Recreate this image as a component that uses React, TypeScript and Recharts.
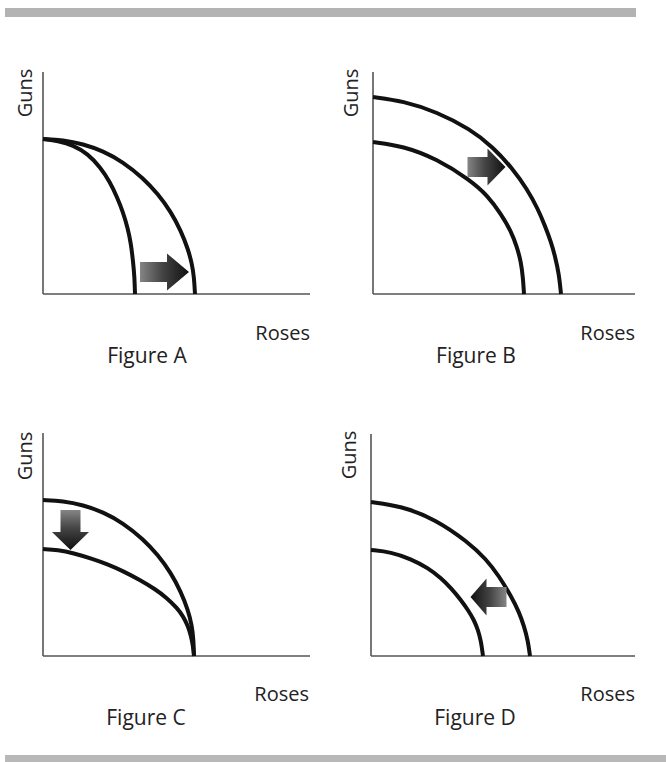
import React from "react";
import { LineChart, Line, XAxis, YAxis, ReferenceDot, ReferenceLine } from "recharts";

// Four production-possibility frontiers (Guns vs Roses), one small LineChart per figure.
// Units: distance from the axes, in the figure's own scale.

type Pt = { x: number; y: number };

const figureA_before: Pt[] = [
  { x: 0, y: 155 }, { x: 15, y: 153 }, { x: 30, y: 149 }, { x: 45, y: 140 },
  { x: 57, y: 127 }, { x: 67, y: 112 }, { x: 74, y: 97 }, { x: 80, y: 82 },
  { x: 85, y: 65 }, { x: 88, y: 50 }, { x: 90, y: 33 }, { x: 91.5, y: 17 }, { x: 92, y: 0 },
];
const figureA_after: Pt[] = [
  { x: 0, y: 155 }, { x: 20, y: 154 }, { x: 40, y: 150 }, { x: 60, y: 143 },
  { x: 80, y: 132 }, { x: 100, y: 116 }, { x: 115, y: 100 }, { x: 128, y: 82 },
  { x: 138, y: 63 }, { x: 145, y: 45 }, { x: 149, y: 30 }, { x: 151, y: 17 }, { x: 152, y: 0 },
];

const figureB_before: Pt[] = [
  { x: 0, y: 152 }, { x: 30, y: 148 }, { x: 64, y: 135 }, { x: 97, y: 114 },
  { x: 115, y: 98 }, { x: 128, y: 80 }, { x: 138, y: 63 }, { x: 144, y: 47 },
  { x: 148, y: 32 }, { x: 150, y: 16 }, { x: 151, y: 0 },
];
const figureB_after: Pt[] = [
  { x: 0, y: 197 }, { x: 30, y: 193 }, { x: 64, y: 182 }, { x: 97, y: 165 },
  { x: 120, y: 147 }, { x: 140, y: 125 }, { x: 154, y: 105 }, { x: 165, y: 85 },
  { x: 172, y: 68 }, { x: 178, y: 52 }, { x: 182, y: 38 }, { x: 186, y: 20 }, { x: 188, y: 0 },
];

const figureC_before: Pt[] = [
  { x: 0, y: 156 }, { x: 20, y: 155 }, { x: 40, y: 151 }, { x: 60, y: 144 },
  { x: 80, y: 133 }, { x: 100, y: 117 }, { x: 115, y: 101 }, { x: 128, y: 83 },
  { x: 138, y: 64 }, { x: 145, y: 46 }, { x: 149, y: 30 }, { x: 150.5, y: 16 }, { x: 151, y: 0 },
];
const figureC_after: Pt[] = [
  { x: 0, y: 107 }, { x: 15, y: 106 }, { x: 30, y: 103 }, { x: 50, y: 97 },
  { x: 64, y: 92 }, { x: 80, y: 85 }, { x: 97, y: 76 }, { x: 112, y: 67 },
  { x: 124, y: 58 }, { x: 134, y: 48 }, { x: 140, y: 40 }, { x: 145, y: 30 },
  { x: 148, y: 20 }, { x: 150, y: 10 }, { x: 151, y: 0 },
];

const figureD_before: Pt[] = [
  { x: 0, y: 154 }, { x: 30, y: 150 }, { x: 64, y: 137 }, { x: 97, y: 114 },
  { x: 115, y: 97 }, { x: 128, y: 80 }, { x: 140, y: 60 }, { x: 148, y: 44 },
  { x: 153, y: 30 }, { x: 157, y: 15 }, { x: 159, y: 0 },
];
const figureD_after: Pt[] = [
  { x: 0, y: 106 }, { x: 20, y: 104 }, { x: 40, y: 97 }, { x: 57, y: 88 },
  { x: 70, y: 78 }, { x: 80, y: 68 }, { x: 90, y: 56 }, { x: 97, y: 46 },
  { x: 103, y: 36 }, { x: 107, y: 26 }, { x: 110, y: 15 }, { x: 112, y: 0 },
];

const xLabel = "Roses";
const yLabel = "Guns";
const figureNames = ["Figure A", "Figure B", "Figure C", "Figure D"];

const font = "'Open Sans', sans-serif";
const ink = "#222";
const axisColor = "#555";

const panels = [
  {
    left: 0, top: 20, width: 333, height: 360,
    margin: { top: 52, right: 23, bottom: 86, left: 43 },
    xMax: 267, yMax: 222,
    curves: [figureA_before, figureA_after],
    arrow: { x: 121.5, y: 22, angle: 0, length: 49, head: 22 },
    guns: { x: 32, y: 73 }, roses: { x: 310, y: 320 }, fig: { x: 147, y: 343 },
  },
  {
    left: 333, top: 20, width: 333, height: 360,
    margin: { top: 52, right: 31, bottom: 86, left: 40 },
    xMax: 262, yMax: 222,
    curves: [figureB_before, figureB_after],
    arrow: { x: 113.5, y: 127, angle: 0, length: 38, head: 18 },
    guns: { x: 25, y: 73 }, roses: { x: 302, y: 320 }, fig: { x: 143, y: 343 },
  },
  {
    left: 0, top: 381, width: 333, height: 370,
    margin: { top: 52, right: 23, bottom: 95, left: 43 },
    xMax: 267, yMax: 223,
    curves: [figureC_before, figureC_after],
    arrow: { x: 27.5, y: 126, angle: 90, length: 40, head: 18 },
    guns: { x: 32, y: 75 }, roses: { x: 309, y: 320 }, fig: { x: 146, y: 344 },
  },
  {
    left: 333, top: 381, width: 333, height: 370,
    margin: { top: 53, right: 31, bottom: 95, left: 38 },
    xMax: 264, yMax: 222,
    curves: [figureD_before, figureD_after],
    arrow: { x: 117.5, y: 59, angle: 180, length: 36, head: 16 },
    guns: { x: 23, y: 74 }, roses: { x: 302, y: 320 }, fig: { x: 142, y: 344 },
  },
];

function arrowShape(id: string, angle: number, length: number, head: number) {
  return (props: any) => {
    const { cx, cy } = props;
    const half = length / 2;
    const neck = half - head;
    const body = 10;
    const wing = 18.5;
    const pts = [
      [-half, -body], [neck, -body], [neck, -wing], [half, 0],
      [neck, wing], [neck, body], [-half, body],
    ].map((p) => p.join(",")).join(" ");
    return (
      <g transform={`translate(${cx},${cy}) rotate(${angle})`}>
        <defs>
          <linearGradient id={id} x1="0" y1="0" x2="1" y2="0">
            <stop offset="0" stopColor="#858585" />
            <stop offset="0.45" stopColor="#454545" />
            <stop offset="1" stopColor="#101010" />
          </linearGradient>
        </defs>
        <polygon points={pts} fill={`url(#${id})`} />
      </g>
    );
  };
}

function Figure({ p, name, idx }: { p: (typeof panels)[number]; name: string; idx: number }) {
  return (
    <div style={{ position: "absolute", left: p.left, top: p.top }}>
      <LineChart width={p.width} height={p.height} margin={p.margin}>
        <XAxis type="number" dataKey="x" domain={[0, p.xMax]} hide />
        <YAxis type="number" dataKey="y" domain={[0, p.yMax]} hide />
        <ReferenceLine x={0} stroke={axisColor} strokeWidth={1.6} />
        <ReferenceLine y={0} stroke={axisColor} strokeWidth={1.6} />
        {p.curves.map((c, i) => (
          <Line
            key={i}
            data={c}
            dataKey="y"
            type="basis"
            stroke="#111"
            strokeWidth={4}
            dot={false}
            activeDot={false}
            isAnimationActive={false}
          />
        ))}
        <ReferenceDot
          x={p.arrow.x}
          y={p.arrow.y}
          r={1}
          shape={arrowShape(`arrow-grad-${idx}`, p.arrow.angle, p.arrow.length, p.arrow.head)}
        />
        <text
          x={p.guns.x}
          y={p.guns.y}
          transform={`rotate(-90, ${p.guns.x}, ${p.guns.y})`}
          textAnchor="middle"
          fontFamily={font}
          fontSize={20}
          fill={ink}
        >
          {yLabel}
        </text>
        <text x={p.roses.x} y={p.roses.y} textAnchor="end" fontFamily={font} fontSize={20} fill={ink}>
          {xLabel}
        </text>
        <text x={p.fig.x} y={p.fig.y} textAnchor="middle" fontFamily={font} fontSize={21} fill={ink}>
          {name}
        </text>
      </LineChart>
    </div>
  );
}

export default function App() {
  return (
    <div
      style={{
        position: "absolute",
        left: 0,
        top: 0,
        width: 666,
        height: 762,
        background: "#fff",
        overflow: "hidden",
      }}
    >
      <div style={{ position: "absolute", left: 5, top: 8, width: 631, height: 9, background: "#b3b3b3" }} />
      <div style={{ position: "absolute", left: 5, top: 755, width: 661, height: 7, background: "#b8b8b8" }} />
      {panels.map((p, i) => (
        <Figure key={i} p={p} name={figureNames[i]} idx={i} />
      ))}
    </div>
  );
}
